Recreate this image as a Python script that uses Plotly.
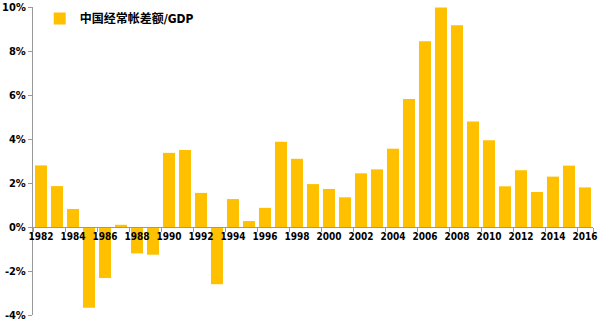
import plotly.graph_objects as go

years = [str(y) for y in range(1982, 2017)]
values = [2.8, 1.86, 0.82, -3.67, -2.32, 0.1, -1.2, -1.26, 3.37, 3.5,
          1.55, -2.6, 1.27, 0.27, 0.87, 3.88, 3.1, 1.95, 1.73, 1.35,
          2.44, 2.62, 3.56, 5.82, 8.44, 9.98, 9.17, 4.8, 3.94, 1.85,
          2.58, 1.59, 2.29, 2.79, 1.8]
series_name = "中国经常帐差额/GDP"
y_ticks = [-4, -2, 0, 2, 4, 6, 8, 10]
y_labels = [f"{v}%" for v in y_ticks]
x_ticks = years[::2]

font_family = "DejaVu Sans Condensed, DejaVu Sans, Noto Sans CJK SC"

fig = go.Figure()
fig.add_trace(go.Bar(x=years, y=values, name=series_name, marker_color="#FFC000",
                     marker_line_width=0, showlegend=True))

fig.update_layout(
    width=600, height=325,
    margin=dict(l=33, r=7, t=7, b=10, autoexpand=False),
    plot_bgcolor="white", paper_bgcolor="white",
    bargap=0.25,
    showlegend=True,
    legend=dict(x=0.012, y=1.01, xanchor="left", yanchor="top",
                font=dict(family=font_family, size=12, color="#000", weight="bold"),
                bgcolor="rgba(0,0,0,0)", itemwidth=30),
    xaxis=dict(type="category", tickmode="array", tickvals=x_ticks, ticktext=x_ticks,
               tickson="boundaries", ticks="outside", ticklen=4, tickcolor="#999",
               tickangle=0, automargin=False,
               showline=True, linecolor="#999", linewidth=1,
               anchor="free", position=4/14, showgrid=False, zeroline=False,
               tickfont=dict(family=font_family, size=10, color="#000", weight="bold")),
    yaxis=dict(range=[-4, 10], tickmode="array", tickvals=y_ticks, ticktext=y_labels,
               ticks="outside", ticklen=4, tickcolor="#999", automargin=False,
               showline=True, linecolor="#999", linewidth=1,
               showgrid=False, zeroline=False,
               tickfont=dict(family=font_family, size=11, color="#000", weight="bold")),
)

fig.write_html("out.html")
